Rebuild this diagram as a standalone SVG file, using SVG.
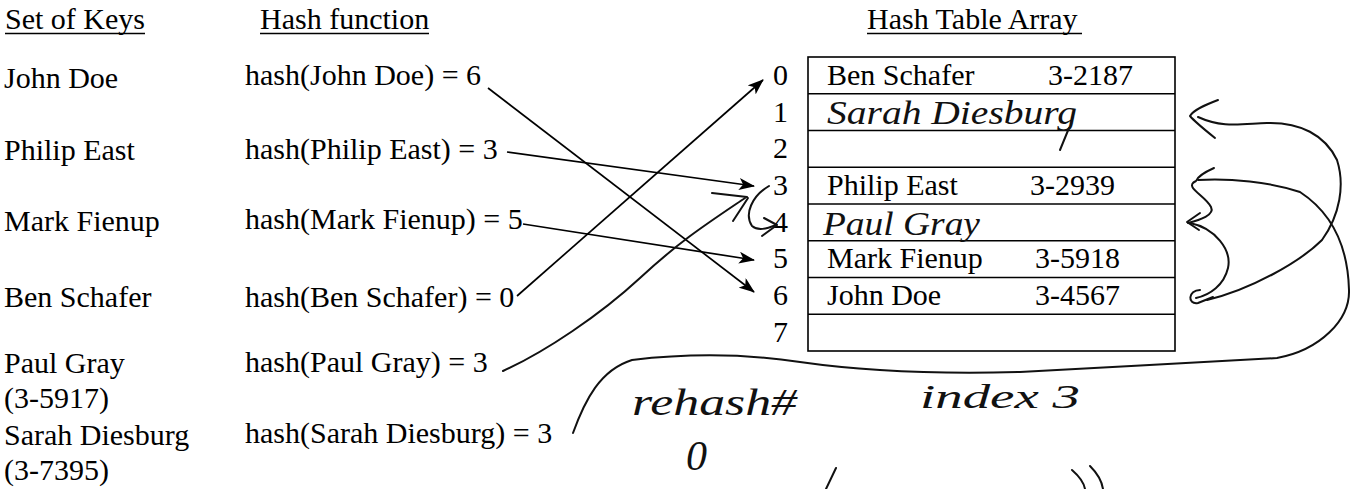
<svg xmlns="http://www.w3.org/2000/svg" width="1351" height="489" viewBox="0 0 1351 489">
  <style>
    .t { font-family: "Liberation Serif", "Times New Roman", serif; font-size: 30px; fill: #000; }
    .hw { font-family: "Liberation Serif", "Times New Roman", serif; font-style: italic; fill: #111; }
    .ul { stroke: #000; stroke-width: 1.5; }
    .grid { fill: none; stroke: #000; stroke-width: 1.6; }
    .row { stroke: #000; stroke-width: 1.4; }
    .link { fill: none; stroke: #000; stroke-width: 1.7; marker-end: url(#head); }
    .ink { fill: none; stroke: #111; stroke-width: 2; stroke-linecap: round; stroke-linejoin: round; }
  </style>
  <defs>
    <marker id="head" viewBox="0 0 16 12" refX="15" refY="6" markerWidth="16" markerHeight="12" markerUnits="userSpaceOnUse" orient="auto">
      <path d="M0,0 L16,6 L0,12 L4,6 z" fill="#000"/>
    </marker>
  </defs>
  <rect width="1351" height="489" fill="#fff"/>

  <!-- column headings -->
  <g id="headings">
    <text class="t" x="5" y="29">Set of Keys</text>
    <line class="ul" x1="5" y1="33.5" x2="145" y2="33.5"/>
    <text class="t" x="260" y="29">Hash function</text>
    <line class="ul" x1="260" y1="33.5" x2="429" y2="33.5"/>
    <text class="t" x="867" y="29">Hash Table Array</text>
    <line class="ul" x1="867" y1="33.5" x2="1082" y2="33.5"/>
  </g>

  <!-- keys -->
  <g id="key-john"><text class="t" x="4" y="88">John Doe</text></g>
  <g id="key-philip"><text class="t" x="4" y="160">Philip East</text></g>
  <g id="key-mark"><text class="t" x="4" y="231">Mark Fienup</text></g>
  <g id="key-ben"><text class="t" x="4" y="307">Ben Schafer</text></g>
  <g id="key-paul"><text class="t" x="4" y="373">Paul Gray</text><text class="t" x="4" y="408">(3-5917)</text></g>
  <g id="key-sarah"><text class="t" x="4" y="445">Sarah Diesburg</text><text class="t" x="4" y="480">(3-7395)</text></g>

  <!-- hash function results -->
  <g id="hash-john"><text class="t" x="245" y="85">hash(John Doe) = 6</text></g>
  <g id="hash-philip"><text class="t" x="245" y="159">hash(Philip East) = 3</text></g>
  <g id="hash-mark"><text class="t" x="245" y="229">hash(Mark Fienup) = 5</text></g>
  <g id="hash-ben"><text class="t" x="245" y="307">hash(Ben Schafer) = 0</text></g>
  <g id="hash-paul"><text class="t" x="245" y="372">hash(Paul Gray) = 3</text></g>
  <g id="hash-sarah"><text class="t" x="245" y="443">hash(Sarah Diesburg) = 3</text></g>

  <!-- hash table array: 8 slots -->
  <g id="hash-table">
    <rect class="grid" x="808" y="57" width="367" height="294"/>
    <line class="row" x1="808" y1="93.75" x2="1175" y2="93.75"/>
    <line class="row" x1="808" y1="130.5" x2="1175" y2="130.5"/>
    <line class="row" x1="808" y1="167.25" x2="1175" y2="167.25"/>
    <line class="row" x1="808" y1="204" x2="1175" y2="204"/>
    <line class="row" x1="808" y1="240.75" x2="1175" y2="240.75"/>
    <line class="row" x1="808" y1="277.5" x2="1175" y2="277.5"/>
    <line class="row" x1="808" y1="314.25" x2="1175" y2="314.25"/>
    <g id="slot-0"><text class="t" x="773" y="85">0</text><text class="t" x="827" y="85">Ben Schafer</text><text class="t" x="1048" y="85">3-2187</text></g>
    <g id="slot-1"><text class="t" x="773" y="122">1</text>
      <text class="hw" x="827" y="124" font-size="34" textLength="250" lengthAdjust="spacingAndGlyphs">Sarah Diesburg</text>
      <path class="ink" d="M1069,128 L1060,150"/></g>
    <g id="slot-2"><text class="t" x="773" y="158">2</text></g>
    <g id="slot-3"><text class="t" x="773" y="195">3</text><text class="t" x="827" y="195">Philip East</text><text class="t" x="1030" y="195">3-2939</text></g>
    <g id="slot-4"><text class="t" x="773" y="232">4</text>
      <text class="hw" x="823" y="235" font-size="33" textLength="157" lengthAdjust="spacingAndGlyphs">Paul Gray</text></g>
    <g id="slot-5"><text class="t" x="773" y="268">5</text><text class="t" x="827" y="268">Mark Fienup</text><text class="t" x="1035" y="268">3-5918</text></g>
    <g id="slot-6"><text class="t" x="773" y="305">6</text><text class="t" x="827" y="305">John Doe</text><text class="t" x="1035" y="305">3-4567</text></g>
    <g id="slot-7"><text class="t" x="773" y="342">7</text></g>
  </g>

  <!-- connectors: hash results to slots -->
  <g id="connectors">
    <path class="link" d="M488,88 L754,292"/>
    <path class="link" d="M507,152 L754,186"/>
    <path class="link" d="M523,224 L754,260"/>
    <path class="link" d="M517,296 L763,80"/>
    <!-- Paul Gray: hand-drawn probe from 3 into 4 -->
    <path class="ink" stroke-width="1.6" d="M503,371 C545,352 600,315 640,278 S705,225 745,198"/>
    <path class="ink" d="M712,193 L747,197 M733,221 L748,198"/>
    <path class="ink" d="M769,186 C752,196 744,214 752,226 C758,231 766,229 776,225"/>
    <path class="ink" d="M764,218 L777,225 L762,236"/>
    <!-- Sarah Diesburg: long loop under the table into slot 3 -->
    <path class="ink" stroke-width="1.6" d="M573,433 C585,400 600,370 632,360 C700,352 760,356 800,362 C870,372 950,374 1020,372 C1100,368 1200,362 1277,358 C1320,350 1350,320 1349,290 C1348,250 1335,215 1300,192 C1270,182 1230,178 1198,180"/>
    <path class="ink" d="M1214,168 C1205,172 1198,176 1196,181 C1183,187 1205,195 1211,207 C1215,215 1200,220 1188,223"/>
    <path class="ink" d="M1200,213 L1187,222 L1199,230"/>
    <path class="ink" d="M1190,223 C1215,228 1232,250 1228,268 C1224,285 1210,295 1196,298"/>
    <path class="ink" d="M1200,290 C1188,290 1187,305 1198,303 L1213,297"/>
    <path class="ink" d="M1207,300 C1250,290 1300,262 1322,240 C1340,215 1345,185 1337,160 C1325,135 1300,122 1267,123 C1240,124 1222,128 1198,117"/>
    <path class="ink" d="M1218,100 C1205,105 1193,110 1190,116 C1195,122 1205,130 1215,138"/>
  </g>

  <!-- handwritten notes below the table -->
  <g id="notes">
    <text class="hw" x="632" y="415" font-size="38" textLength="165" lengthAdjust="spacingAndGlyphs">rehash#</text>
    <text class="hw" x="686" y="470" font-size="42">0</text>
    <text class="hw" x="920" y="408" font-size="34" textLength="160" lengthAdjust="spacingAndGlyphs">index 3</text>
    <path class="ink" d="M836,468 L826,489"/>
    <path class="ink" d="M1072,470 C1080,477 1084,483 1085,489"/>
    <path class="ink" d="M1090,466 C1098,474 1102,482 1103,489"/>
  </g>
</svg>
